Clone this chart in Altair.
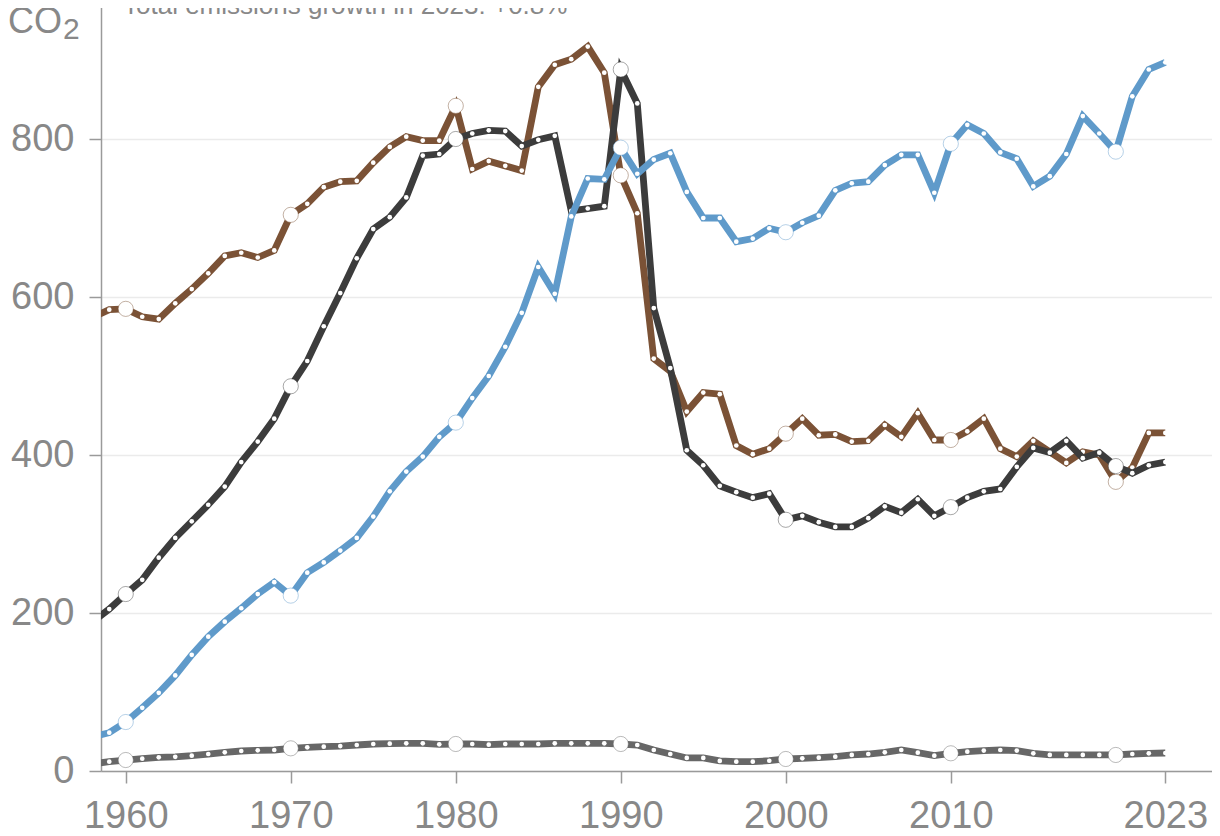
import altair as alt
import pandas as pd

years = list(range(1958, 2024))

coal = [574, 584, 585, 575, 572, 592, 610, 630, 652, 656,
        650, 659, 704, 718, 739, 746, 747, 770, 790, 803,
        798, 798, 842, 762, 772, 766, 760, 866, 894, 901,
        917, 884, 754, 706, 522, 506, 455, 479, 477, 412,
        401, 408, 427, 446, 425, 426, 417, 418, 438, 423,
        453, 419, 419, 430, 446, 408, 398, 418, 404, 390,
        404, 400, 366, 384, 428, 428]

oil = [189, 205, 224, 242, 270, 295, 316, 337, 360, 391,
       417, 446, 487, 519, 563, 605, 649, 686, 701, 726,
       779, 781, 800, 807, 811, 810, 791, 799, 804, 709,
       712, 715, 888, 845, 586, 510, 406, 387, 361, 353,
       346, 351, 318, 323, 315, 309, 309, 320, 335, 327,
       344, 323, 334, 346, 354, 357, 385, 409, 403, 418,
       396, 403, 386, 377, 387, 391]

gas = [43, 48.5, 62, 80, 99, 121, 147, 170, 189, 206,
       224, 239, 222, 251, 264, 279, 295, 322, 354, 379,
       398, 423, 441, 472, 500, 537, 580, 638, 604, 702,
       750, 749, 789, 756, 774, 782, 733, 700, 700, 670,
       674, 687, 682, 694, 703, 735, 744, 746, 767, 780,
       780, 732, 794, 818, 807, 783, 775, 740, 753, 781,
       829, 807, 784, 854, 888, 897]

cement = [9.2, 11.8, 13.9, 15.6, 17.3, 18, 19.4, 21.5, 23.6, 25.3,
          26.2, 26.6, 28.7, 30, 30.8, 31.6, 32.9, 34.2, 34.6, 35,
          35, 33.8, 34.2, 34.2, 33.3, 34.2, 34.2, 34.2, 35, 35,
          35, 35, 34.2, 32.9, 26.6, 21.5, 16.5, 16.5, 12.7, 11.8,
          11.8, 13, 15.2, 16, 16.9, 18.1, 20.3, 21.5, 23.6, 26.6,
          23.2, 19.4, 22.4, 24.5, 25.8, 26.6, 25.8, 22.4, 20.3, 20.3,
          20.3, 20.3, 20.3, 21.5, 22.4, 22.8]

series_names = ["Cement", "Coal", "Oil", "Gas"]
series_values = [cement, coal, oil, gas]
series_colors = ["#676767", "#7b5236", "#3c3c3c", "#5f9aca"]

marker_years = [1960, 1970, 1980, 1990, 2000, 2010, 2020]
x_ticks = [1960, 1970, 1980, 1990, 2000, 2010, 2023]
y_ticks = [0, 200, 400, 600, 800]

subtitle = "Total emissions growth in 2023: +0.8%"
unit_main = "CO"
unit_sub = "2"

rows = []
for name, vals in zip(series_names, series_values):
    for yr, v in zip(years, vals):
        rows.append({"series": name, "year": yr, "value": v,
                     "marker": yr in marker_years})
df = pd.DataFrame(rows)

FONT = "Liberation Sans"
GREY_TXT = "#888888"
AXIS_GREY = "#9a9a9a"

x_enc = alt.X(
    "year:Q",
    title="",
    scale=alt.Scale(domain=[1958.5, 2025.83], nice=False, zero=False),
    axis=alt.Axis(values=x_ticks, format="d", grid=False,
                  domainColor=AXIS_GREY, domainWidth=1.5,
                  tickColor=AXIS_GREY, tickWidth=1.5, tickSize=12,
                  labelFontSize=38, labelColor=GREY_TXT, labelFont=FONT,
                  labelPadding=14, labelFlush=False, labelOverlap=False,
                  labelBound=False),
)
y_enc = alt.Y(
    "value:Q",
    title="",
    scale=alt.Scale(domain=[0, 1000], nice=False),
    axis=alt.Axis(values=y_ticks, grid=True, gridColor="#ebebeb", gridWidth=1.5,
                  domainColor=AXIS_GREY, domainWidth=1.5,
                  tickColor=AXIS_GREY, tickWidth=1.5, tickSize=12,
                  labelFontSize=38, labelColor=GREY_TXT, labelFont=FONT,
                  labelPadding=15, labelOverlap=False, labelBound=False),
)

base = alt.Chart(df)
layers = []
for name, col in zip(series_names, series_colors):
    s = base.transform_filter(alt.datum.series == name)
    layers.append(s.mark_line(color=col, strokeWidth=6.8, clip=True)
                  .encode(x=x_enc, y=y_enc))
    layers.append(s.mark_circle(color="white", opacity=1, size=22, clip=True)
                  .encode(x=x_enc, y=y_enc))
    layers.append(s.transform_filter(alt.datum.marker == True)
                  .mark_circle(color="white", opacity=1, size=230,
                               stroke=col, strokeWidth=1, strokeOpacity=0.45,
                               clip=True)
                  .encode(x=x_enc, y=y_enc))

sub_layer = alt.Chart(pd.DataFrame({"t": [subtitle]})).mark_text(
    align="left", baseline="alphabetic", fontSize=26, color=GREY_TXT, font=FONT
).encode(text="t:N", x=alt.value(22), y=alt.value(33))

unit_layer = alt.Chart(pd.DataFrame({"t": [unit_main]})).mark_text(
    align="left", baseline="alphabetic", fontSize=36, color=GREY_TXT, font=FONT
).encode(text="t:N", x=alt.value(-93), y=alt.value(52))

unit_sub_layer = alt.Chart(pd.DataFrame({"t": [unit_sub]})).mark_text(
    align="left", baseline="alphabetic", fontSize=30, color=GREY_TXT, font=FONT
).encode(text="t:N", x=alt.value(-38), y=alt.value(58))

chart = alt.layer(*layers, sub_layer, unit_layer, unit_sub_layer).properties(
    width=1111,
    height=790,
    autosize=alt.AutoSizeParams(type="none"),
    padding={"left": 93, "top": -27, "right": 0, "bottom": 57},
).configure_view(strokeWidth=0).configure(background="white")

chart.save("out.html", embed_options={"renderer": "svg", "actions": False})
